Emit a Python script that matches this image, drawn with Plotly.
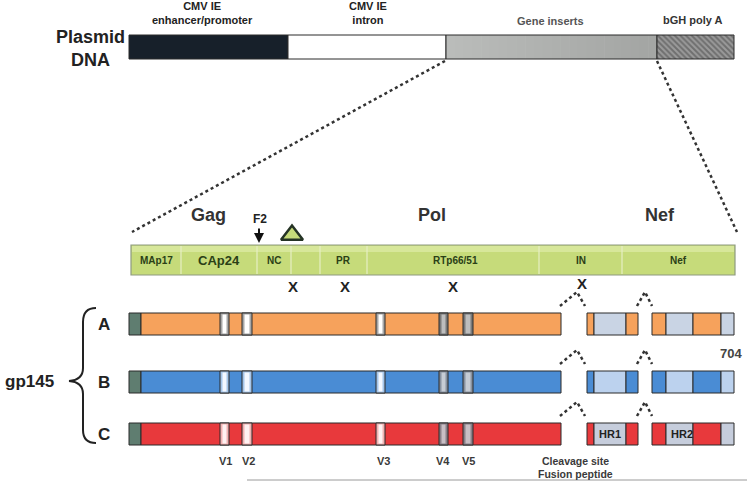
import plotly.graph_objects as go
import numpy as np

# ---- data (diagram coordinates, pixels of the original figure) ----
plasmid_names = ["CMV IE<br>enhancer/promoter", "CMV IE<br>intron", "Gene inserts", "bGH poly A"]
plasmid_edges = [129, 288, 446, 657, 734]

gene_names = ["MAp17", "CAp24", "NC", "", "PR", "RTp66/51", "IN", "Nef"]
gene_edges = [131, 181, 257, 291, 320, 367, 539, 622, 735]
gene_groups = ["Gag", "Pol", "Nef"]
gene_group_x = [208, 432, 660]
deletion_x = [293, 345, 453, 582]

rows = ["A", "B", "C"]
row_top = [313, 371, 423]
signal_pep = [129, 141]
gp120_end = 561
v_names = ["V1", "V2", "V3", "V4", "V5"]
v_bands = [(220, 229), (242, 252), (376, 385), (439, 448), (463, 473)]
piece2 = [587, 594, 626, 638]
piece3 = [652, 666, 693, 721, 734]
gap_carets = [(560, 577, 585), (637, 645, 652)]

row_color = {"A": "#F6A25C", "B": "#4A8CD4", "C": "#E8393C"}
row_light = {"A": "#C9D4E4", "B": "#BCD2EE", "C": "#C6CDDC"}
v_edge = {"A": ("#A8A8A8", "#7A7A7A"), "B": ("#A6C6EA", "#8892A0"), "C": ("#F2B3B3", "#8A8088")}
v_core = {"A": ("#FFFFFF", "#BDBDBD"), "B": ("#F4F8FF", "#C6CCD4"), "C": ("#FFF2F2", "#C8BEC4")}

OUT = "#2B2B2B"
H = 22
FONT = "Liberation Sans"

fig = go.Figure()


def segs(starts, ends, yc, h, colors, lw=1, lc=OUT, pattern=None):
    fig.add_trace(go.Bar(
        orientation="h",
        base=starts,
        x=[e - s for s, e in zip(starts, ends)],
        y=[yc] * len(starts),
        width=[h] * len(starts),
        marker=dict(color=colors, line=dict(color=lc, width=lw), pattern=pattern),
        hoverinfo="skip",
        showlegend=False,
    ))


def label(x, y, text, size, color="#222", bold=True):
    fig.add_annotation(x=x, y=y, text="<b>%s</b>" % text if bold else text, showarrow=False,
                       font=dict(size=size, color=color, family=FONT))


# ---- plasmid bar ----
py0, py1 = 35, 59
pc = (py0 + py1) / 2
segs([plasmid_edges[0]], [plasmid_edges[1]], pc, py1 - py0, ["#17202A"])
segs([plasmid_edges[1]], [plasmid_edges[2]], pc, py1 - py0, ["#FFFFFF"])
# soft gradient on the gene insert block
steps = np.linspace(plasmid_edges[2], plasmid_edges[3], 25)
greys = np.linspace(186, 164, 24).astype(int)
segs(list(steps[:-1]), list(steps[1:] + 0.6), pc, py1 - py0,
     ["rgb(%d,%d,%d)" % (g, g + 2, g) for g in greys], lw=0)
segs([plasmid_edges[2]], [plasmid_edges[3]], pc, py1 - py0, ["rgba(0,0,0,0)"])
segs([plasmid_edges[3]], [plasmid_edges[4]], pc, py1 - py0, ["#9A9A9A"],
     pattern=dict(shape="\\", fgcolor="#1E1E1E", bgcolor="#C8C8C8", size=4, solidity=0.5))

label(202, 13, plasmid_names[0], 11)
label(368, 13, plasmid_names[1], 11)
label(550, 21, plasmid_names[2], 11, color="#555")
label(693, 20, plasmid_names[3], 11, color="#333")
label(90, 37, "Plasmid", 18)
label(90, 60, "DNA", 18)

# ---- zoom lines ----
for xs, ys in [([445, 132], [61, 232]), ([657, 737], [61, 232])]:
    fig.add_trace(go.Scatter(x=xs, y=ys, mode="lines", hoverinfo="skip", showlegend=False,
                             line=dict(color="#333", width=2.5, dash="dot")))

# ---- gene bar ----
gy0, gy1 = 245, 275
gc = (gy0 + gy1) / 2
segs([gene_edges[0]], [gene_edges[-1]], gc, gy1 - gy0, ["#C6DB7A"], lw=1.2, lc="#8E9A80")
segs([gene_edges[0] + 1], [gene_edges[-1] - 1], gy0 + 4, 6, ["rgba(230,240,180,0.55)"], lw=0)
for xe in gene_edges[1:-1]:
    fig.add_trace(go.Scatter(x=[xe, xe], y=[gy0 + 1, gy1 - 1], mode="lines", hoverinfo="skip",
                             showlegend=False, line=dict(color="#E6EFC4", width=1.2)))
for i, name in enumerate(gene_names):
    if not name:
        continue
    xm = (gene_edges[i] + gene_edges[i + 1]) / 2
    if name == "RTp66/51":
        xm = 455
    label(xm, gc, name, 13 if name == "CAp24" else 10, color="#2A4016")
for name, xg in zip(gene_groups, gene_group_x):
    label(xg, 215, name, 18, color="#333")
for xd in deletion_x:
    label(xd, 286 if xd < 500 else 283, "X", 15)
label(260, 219, "F2", 12)
fig.add_annotation(x=259, y=243, ax=259, ay=227, xref="x", yref="y", axref="x", ayref="y",
                   text="", showarrow=True, arrowhead=2, arrowsize=1, arrowwidth=2, arrowcolor="#111")
fig.add_trace(go.Scatter(x=[292], y=[235], mode="markers", hoverinfo="skip", showlegend=False,
                         marker=dict(symbol="triangle-up", size=19, color="#C6DB7A",
                                     line=dict(color="#253325", width=2.5))))

# ---- gp145 rows ----
for r, top in zip(rows, row_top):
    yc = top + H / 2
    col, light = row_color[r], row_light[r]
    segs([signal_pep[0], signal_pep[1]], [signal_pep[1], gp120_end], yc, H, ["#5F7D70", col])
    for k, (a, b) in enumerate(v_bands):
        dark = 1 if k >= 3 else 0
        segs([a], [b], yc, H, [v_edge[r][dark]])
        segs([a + 2.5], [b - 2.5], yc, H - 3, [v_core[r][dark]], lw=0)
    segs(piece2[:-1], piece2[1:], yc, H, [col, light, col])
    segs(piece3[:-1], piece3[1:], yc, H, [col, light, col, light])
    for xl, xa, xr in gap_carets:
        fig.add_trace(go.Scatter(x=[xl, xa, xr], y=[top - 7, top - 21, top - 7], mode="lines",
                                 hoverinfo="skip", showlegend=False,
                                 line=dict(color="#333", width=2.5, dash="dot")))
    label(104, yc, r, 17)

label(610, row_top[2] + H / 2, "HR1", 11)
label(682, row_top[2] + H / 2, "HR2", 11)
label(731, 353, "704", 13, color="#444")

# brace + gp145
fig.add_shape(type="path", xref="x", yref="y",
              path="M 96 308 Q 83 308 83 322 L 83 368 Q 83 380 69 381 "
                   "Q 83 382 83 394 L 83 430 Q 83 443 96 443",
              line=dict(color="#222", width=2))
label(29, 381, "gp145", 17)

# bottom labels
v_label_x = [225, 248, 383, 443, 468]
for name, xv in zip(v_names, v_label_x):
    label(xv, 461, name, 11, color="#3A3A3A")
label(575, 461, "Cleavage site", 10.5, color="#3A3A3A")
label(575, 474, "Fusion peptide", 10.5, color="#3A3A3A")
fig.add_shape(type="line", xref="x", yref="y", x0=247, x1=747, y0=480, y1=480,
              line=dict(color="#9A9A9A", width=1))

fig.update_layout(
    width=747, height=483,
    margin=dict(l=0, r=0, t=0, b=0),
    paper_bgcolor="white", plot_bgcolor="white",
    barmode="overlay",
    xaxis=dict(range=[0, 747], visible=False, fixedrange=True),
    yaxis=dict(range=[483, 0], visible=False, fixedrange=True),
    font=dict(family=FONT),
)

fig.write_html("out.html", config={"displayModeBar": False},
               post_script="document.body.style.margin='0';")
